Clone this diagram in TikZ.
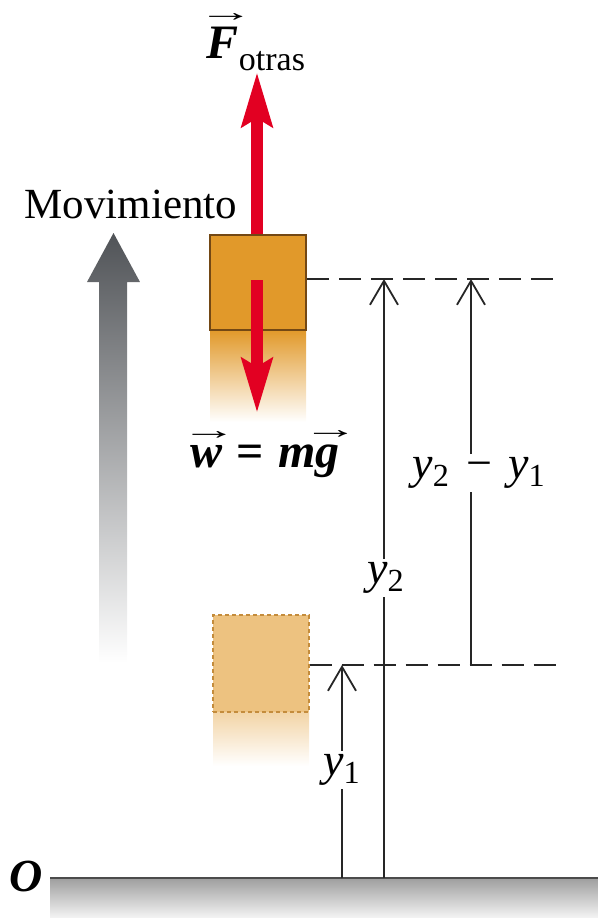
\documentclass[tikz,border=0pt]{standalone}
\usepackage{graphicx}
\usepackage{fontspec}
\setmainfont{Liberation Serif}
\usetikzlibrary{arrows.meta}
\definecolor{blockfill}{RGB}{225,153,42}
\definecolor{blockedge}{RGB}{115,72,20}
\definecolor{ghostfill}{RGB}{237,194,128}
\definecolor{ghostedge}{RGB}{196,140,60}
\definecolor{forcered}{RGB}{226,0,34}
\definecolor{motiongray}{RGB}{80,83,87}
\definecolor{groundline}{RGB}{75,75,75}
\newcommand{\vecbox}[2]{\setbox0=\hbox{\bfseries\itshape #1}\setbox2=\hbox{\fontsize{14}{14}\selectfont\scalebox{2}[1]{→}}\dimen0=\ht0 \advance\dimen0 by #2\rlap{\hbox to \wd0{\hss\raise\dimen0\hbox{\kern0.12em\box2}\hss}}\box0}
\begin{document}
\begin{tikzpicture}[x=0.5pt,y=-0.5pt,
  dimline/.style={line width=0.9pt, draw=black!85},
  dimtip/.style={-{Straight Barb[length=12pt,width=14pt]}},
  dashline/.style={line width=0.9pt, draw=black!85, dash pattern=on 11pt off 5pt},
  lab/.style={font=\fontsize{23}{27}\selectfont, inner sep=1.5pt},
  force/.style={draw=forcered, line width=5.8pt, -{Stealth[length=27pt,width=15pt,inset=4pt]}},
  ]
\useasboundingbox (0,0) rectangle (598,918);

% ground
\shade[top color=black!38, bottom color=black!5] (50,878) rectangle (598,917);
\coordinate (gl) at (50,878);
\coordinate (gr) at (598,878);
\draw[groundline, line width=1.3pt] (gl) -- (gr);
\node[lab, font=\fontsize{23}{27}\selectfont\bfseries\itshape] (O) at (26,876) {O};

% motion arrow
\shade[top color=motiongray, bottom color=white]
  (99,663) -- (99,282) -- (87,282) -- (113.5,233) -- (140,282) -- (127,282) -- (127,663) -- cycle;
\node[font=\fontsize{21.5}{25}\selectfont, inner sep=0pt] (mov) at (131,204) {Movimiento};

% trails
\shade[top color=blockfill, bottom color=white] (210,330) rectangle (306,422);
\shade[top color=ghostfill!70!white, bottom color=white] (213,712) rectangle (309,766);

% blocks
\node[draw=blockedge, fill=blockfill, line width=1pt, minimum width=48pt, minimum height=47.5pt, inner sep=0pt] (topblk) at (258,282.5) {};
\node[draw=ghostedge, fill=ghostfill, line width=0.6pt, dash pattern=on 2pt off 1.5pt, minimum width=48pt, minimum height=48.5pt, inner sep=0pt] (ghost) at (261,663.5) {};

% forces
\coordinate (Ftip) at (257,72);
\coordinate (wstart) at (257,280);
\coordinate (wtip) at (257,413);
\draw[force] (topblk.north -| Ftip) -- (Ftip);
\draw[force] (wstart) -- (wtip);
\node[lab, font=\fontsize{24}{28}\selectfont] (Flab) at (256,42) {\vecbox{F}{2.5pt}\raisebox{-0.25em}{\fontsize{17}{19}\selectfont otras}};
\node[lab, font=\fontsize{24}{28}\selectfont] (wlab) at (265,454) {\vecbox{w}{3pt}\hspace{0.3em}\textbf{=}\hspace{0.3em}\textbf{\textit{m}}\vecbox{g}{3pt}};

% dimension coordinates
\coordinate (g1) at (342,878);
\coordinate (g2) at (384,878);
\coordinate (t1) at (342,665);
\coordinate (t2) at (384,279);
\coordinate (t3) at (471,279);
\coordinate (b3) at (471,665);
\coordinate (d2e) at (557,279);
\coordinate (d1e) at (557,665);

% dashed reference lines
\draw[dashline] (topblk.east |- t2) -- (d2e);
\draw[dashline] (ghost.east |- t1) -- (d1e);

% labels
\node[lab] (ly1) at (342,770) {\textit{y}\textsubscript{1}};
\node[lab] (ly2) at (386,578) {\textit{y}\textsubscript{2}};
\node[lab] (ly21) at (479,473) {\textit{y}\textsubscript{2}\hspace{0.35em}−\hspace{0.35em}\textit{y}\textsubscript{1}};

% dimension lines
\draw[dimline] (g1) -- (ly1.south -| g1);
\draw[dimline,dimtip] (ly1.north -| g1) -- (t1);
\draw[dimline] (g2) -- (ly2.south -| g2);
\draw[dimline,dimtip] (ly2.north -| g2) -- (t2);
\draw[dimline] (b3) -- (ly21.south -| b3);
\draw[dimline,dimtip] (ly21.north -| b3) -- (t3);
\end{tikzpicture}
\end{document}
